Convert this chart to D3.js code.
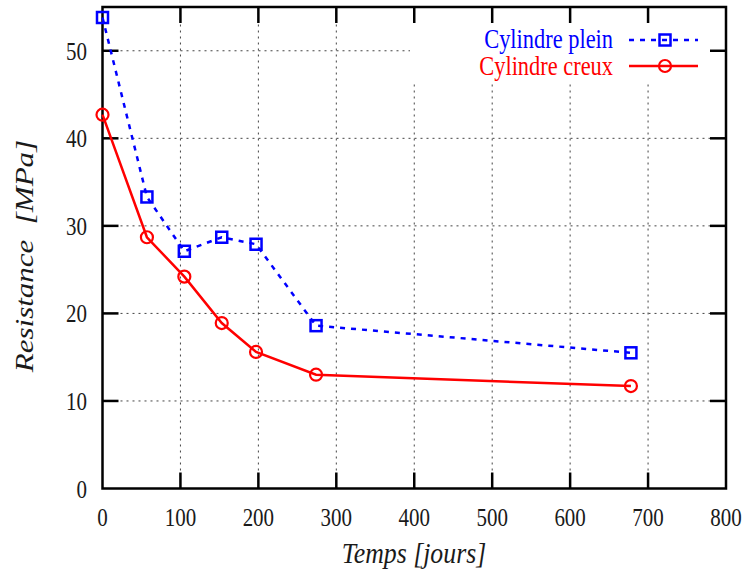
<!DOCTYPE html>
<html><head><meta charset="utf-8">
<script src="https://cdn.jsdelivr.net/npm/d3@7"></script>
<style>body{margin:0;background:#fff}svg{display:block}text{font-family:"Liberation Serif","Times New Roman",serif}</style>
</head><body>
<svg id="c" width="749" height="573"></svg>
<script>
const days = [0, 57, 105, 153, 197, 274, 678];
const plein = [53.8, 33.3, 27.1, 28.7, 27.9, 18.6, 15.5];
const creux = [42.7, 28.7, 24.2, 18.9, 15.6, 13.0, 11.7];
const xTicks = [0, 100, 200, 300, 400, 500, 600, 700, 800];
const yTicks = [0, 10, 20, 30, 40, 50];
const seriesNames = ["Cylindre plein", "Cylindre creux"];

const svg = d3.select("#c");
const L = 102.5, R = 726, T = 7, B = 488.5;
const x = d3.scaleLinear().domain([0, 800]).range([L, R]);
const y = d3.scaleLinear().domain([0, 55]).range([B, T]);
const SX = 0.84;

// grid
const g = svg.append("g");
g.selectAll(".gx").data(xTicks.filter(d => d > 0 && d < 800)).join("line")
  .attr("x1", d => x(d)).attr("x2", d => x(d)).attr("y1", B).attr("y2", T)
  .attr("stroke", "#444").attr("stroke-width", 1).attr("stroke-dasharray", "2,4");
g.selectAll(".gy").data(yTicks.filter(d => d > 0)).join("line")
  .attr("x1", L).attr("x2", R).attr("y1", d => y(d)).attr("y2", d => y(d))
  .attr("stroke", "#444").attr("stroke-width", 1).attr("stroke-dasharray", "2,4");

// legend background
svg.append("rect").attr("x", 410).attr("y", T + 2).attr("width", R - 412).attr("height", 73).attr("fill", "#fff");

// ticks (inward, mirrored)
const tk = svg.append("g").attr("stroke", "#000").attr("stroke-width", 2.5);
xTicks.filter(d => d > 0 && d < 800).forEach(d => {
  tk.append("line").attr("x1", x(d)).attr("x2", x(d)).attr("y1", B).attr("y2", B - 16);
  tk.append("line").attr("x1", x(d)).attr("x2", x(d)).attr("y1", T).attr("y2", T + 16);
});
yTicks.filter(d => d > 0).forEach(d => {
  tk.append("line").attr("x1", L).attr("x2", L + 16).attr("y1", y(d)).attr("y2", y(d));
  tk.append("line").attr("x1", R).attr("x2", R - 16).attr("y1", y(d)).attr("y2", y(d));
});
svg.append("rect").attr("x", L).attr("y", T).attr("width", R - L).attr("height", B - T)
  .attr("fill", "none").attr("stroke", "#000").attr("stroke-width", 2.5);

// tick labels
svg.append("g").selectAll("text").data(xTicks).join("text")
  .attr("transform", d => `translate(${x(d)},526) scale(${SX},1)`).attr("text-anchor", "middle")
  .attr("font-size", 25).attr("fill", "#1a1a1a").text(d => d);
svg.append("g").selectAll("text").data(yTicks).join("text")
  .attr("transform", d => `translate(87,${y(d) + 9}) scale(${SX},1)`).attr("text-anchor", "end")
  .attr("font-size", 25).attr("fill", "#1a1a1a").text(d => d);

// axis titles
svg.append("text").attr("transform", `translate(414,563) scale(0.86,1)`).attr("text-anchor", "middle")
  .attr("font-size", 30).attr("font-style", "italic").attr("fill", "#1a1a1a").text("Temps [jours]");
svg.append("text").attr("transform", `translate(33,256) scale(${SX},1) rotate(-90)`).attr("text-anchor", "middle")
  .attr("font-size", 31).attr("font-style", "italic").attr("fill", "#1a1a1a").text("Resistance  [MPa]")
  .attr("xml:space", "preserve").style("white-space", "pre");

const line = d3.line();
const ptsP = days.map((d, i) => [x(d), y(plein[i])]);
const ptsC = days.map((d, i) => [x(d), y(creux[i])]);

svg.append("path").attr("d", line(ptsP)).attr("fill", "none").attr("stroke", "#0000ff")
  .attr("stroke-width", 2.5).attr("stroke-dasharray", "5,6");
svg.append("path").attr("d", line(ptsC)).attr("fill", "none").attr("stroke", "#ff0000")
  .attr("stroke-width", 2.5);

svg.append("g").selectAll("rect").data(ptsP).join("rect")
  .attr("x", d => d[0] - 5.5).attr("y", d => d[1] - 5.5).attr("width", 11).attr("height", 11)
  .attr("fill", "none").attr("stroke", "#0000ff").attr("stroke-width", 2.5);
svg.append("g").selectAll("circle").data(ptsC).join("circle")
  .attr("cx", d => d[0]).attr("cy", d => d[1]).attr("r", 6)
  .attr("fill", "none").attr("stroke", "#ff0000").attr("stroke-width", 2.2);

// legend
const colors = ["#0000ff", "#ff0000"];
const legY = [40, 66], legBase = [48, 75];
seriesNames.forEach((n, i) => {
  const ly = legY[i];
  svg.append("text").attr("transform", `translate(613,${legBase[i]}) scale(0.83,1)`).attr("text-anchor", "end")
    .attr("font-size", 27).attr("fill", colors[i]).text(n);
  svg.append("line").attr("x1", 629).attr("x2", 698).attr("y1", ly).attr("y2", ly)
    .attr("stroke", colors[i]).attr("stroke-width", 2.5)
    .attr("stroke-dasharray", i === 0 ? "5,6" : null);
  if (i === 0) {
    svg.append("rect").attr("x", 665 - 5.5).attr("y", ly - 5.5).attr("width", 11).attr("height", 11)
      .attr("fill", "none").attr("stroke", colors[i]).attr("stroke-width", 2.5);
  } else {
    svg.append("circle").attr("cx", 665).attr("cy", ly).attr("r", 6)
      .attr("fill", "none").attr("stroke", colors[i]).attr("stroke-width", 2.2);
  }
});
</script>
</body></html>
